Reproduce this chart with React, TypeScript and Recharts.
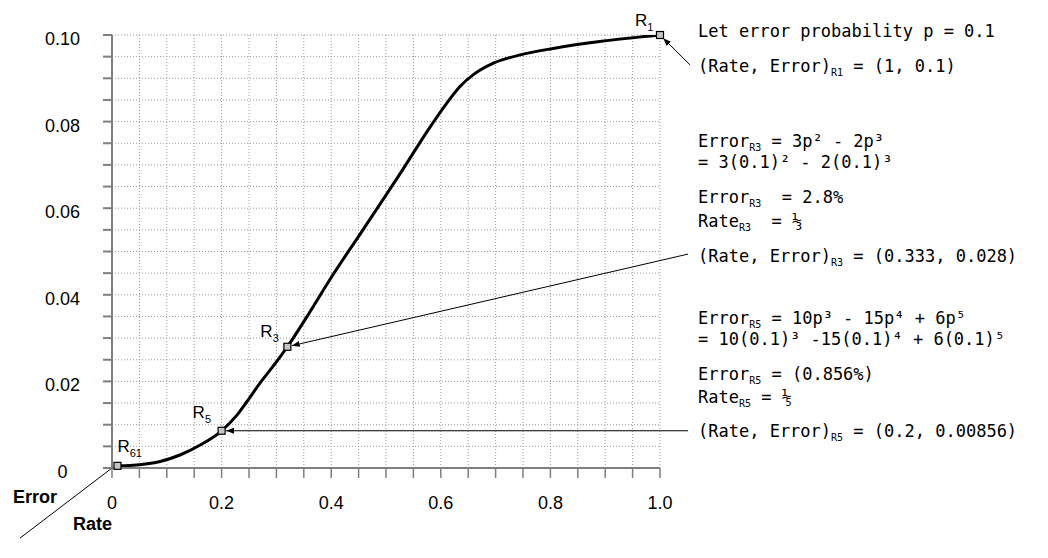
import React from 'react';
import {
  ComposedChart,
  Line,
  XAxis,
  YAxis,
  CartesianGrid,
  ReferenceDot,
  ReferenceLine,
} from 'recharts';

// ---------- data ----------
const curveRates = [0.01, 0.033, 0.088, 0.124, 0.161, 0.2, 0.228, 0.246, 0.27, 0.3, 0.32, 0.36, 0.4, 0.45, 0.49, 0.53, 0.577, 0.61, 0.635, 0.66, 0.696, 0.745, 0.805, 0.89, 1.0];
const curveErrors = [0.0005, 0.0006, 0.0015, 0.003, 0.0053, 0.0086, 0.0122, 0.0153, 0.0196, 0.0245, 0.028, 0.0358, 0.044, 0.0535, 0.0611, 0.0688, 0.0781, 0.0841, 0.0881, 0.0909, 0.0935, 0.0954, 0.0969, 0.0985, 0.1];

const pointNames = ['61', '5', '3', '1'];
const pointRates = [0.01, 0.2, 0.32, 1.0];
const pointErrors = [0.0005, 0.0086, 0.028, 0.1];

const xTicks = Array.from({ length: 21 }, (_, i) => i * 0.05);
const yTicks = Array.from({ length: 21 }, (_, i) => i * 0.005);
const xLabelValues = [0, 0.2, 0.4, 0.6, 0.8, 1.0];
const xTickLabels = ['0', '0.2', '0.4', '0.6', '0.8', '1.0'];
const yLabelValues = [0, 0.02, 0.04, 0.06, 0.08, 0.1];
const yTickLabels = ['0', '0.02', '0.04', '0.06', '0.08', '0.10'];

// annotation leader lines (from note text to point), in data units
const arrowFromRates = [1.0547, 1.0511, 1.0511];
const arrowFromErrors = [0.0931, 0.0494, 0.0086];
const arrowToRates = [1.0, 0.32, 0.2];
const arrowToErrors = [0.1, 0.028, 0.0086];

const cornerLine = [
  { x: 0, y: 0 },
  { x: -0.168, y: -0.0162 },
];

type Part = [string, boolean?];
const noteLines: Part[][] = [
  [['Let error probability p = 0.1']],
  [['(Rate, Error)'], ['R1', true], [' = (1, 0.1)']],
  [['Error'], ['R3', true], [' = 3p² - 2p³']],
  [['= 3(0.1)² - 2(0.1)³']],
  [['Error'], ['R3', true], ['  = 2.8%']],
  [['Rate'], ['R3', true], ['  = ⅓']],
  [['(Rate, Error)'], ['R3', true], [' = (0.333, 0.028)']],
  [['Error'], ['R5', true], [' = 10p³ - 15p⁴ + 6p⁵']],
  [['= 10(0.1)³ -15(0.1)⁴ + 6(0.1)⁵']],
  [['Error'], ['R5', true], [' = (0.856%)']],
  [['Rate'], ['R5', true], [' = ⅕']],
  [['(Rate, Error)'], ['R5', true], [' = (0.2, 0.00856)']],
];

// ---------- layout / style ----------
const W = 1048;
const H = 558;
const noteX = 698;
const noteBaselines = [37, 72, 147, 168, 203, 227, 262, 324, 345, 380, 403, 437];
const labelOffsets = [
  [0, -14],
  [-29, -13],
  [-27, -10],
  [-25, -9],
];
const SANS = '"Liberation Sans", Arial, sans-serif';
const MONO = '"DejaVu Sans Mono", monospace';
const AXIS_GRAY = '#7f7f7f';

const curveData = curveRates.map((r, i) => ({ rate: r, error: curveErrors[i] }));

const findIdx = (arr: number[], v: number) => arr.findIndex((t) => Math.abs(t - v) < 1e-9);

const XTick = (props: any) => {
  const { x, y, payload } = props;
  const i = findIdx(xLabelValues, payload.value);
  if (i < 0) return <g />;
  return (
    <text x={x} y={y + 29} textAnchor="middle" fontFamily={SANS} fontSize={18} fill="#000">
      {xTickLabels[i]}
    </text>
  );
};

const YTick = (props: any) => {
  const { x, y, payload } = props;
  const i = findIdx(yLabelValues, payload.value);
  if (i < 0) return <g />;
  return (
    <text x={x - 38.5} y={y + 10} textAnchor="middle" fontFamily={SANS} fontSize={18} fill="#000">
      {yTickLabels[i]}
    </text>
  );
};

const makeArrowShape = (id: string) => (p: any) => {
  const { x1, y1, x2, y2 } = p;
  const dx = x2 - x1;
  const dy = y2 - y1;
  const len = Math.sqrt(dx * dx + dy * dy) || 1;
  const ex = x2 - (dx / len) * 4.5;
  const ey = y2 - (dy / len) * 4.5;
  return (
    <g>
      <defs>
        <marker id={id} markerUnits="userSpaceOnUse" markerWidth={9} markerHeight={7} refX={8} refY={3} orient="auto">
          <path d="M0,0 L8,3 L0,6 z" fill="#000" />
        </marker>
      </defs>
      <line x1={x1} y1={y1} x2={ex} y2={ey} stroke="#000" strokeWidth={1} markerEnd={`url(#${id})`} />
    </g>
  );
};

const PlainLineShape = (p: any) => (
  <line x1={p.x1} y1={p.y1} x2={p.x2} y2={p.y2} stroke="#000" strokeWidth={1} />
);

const makePointShape = (idx: number) => (p: any) => {
  const { cx, cy } = p;
  const [ox, oy] = labelOffsets[idx];
  return (
    <g>
      <rect x={cx - 3.5} y={cy - 3.5} width={7} height={7} fill="#c4c4c4" stroke="#000" strokeWidth={1.2} />
      <text x={cx + ox} y={cy + oy} fontFamily={SANS} fontSize={17} fill="#000">
        R
        <tspan fontSize={11} dy={5}>
          {pointNames[idx]}
        </tspan>
      </text>
    </g>
  );
};

export default function App() {
  return (
    <div style={{ position: 'absolute', left: 0, top: 0, width: W, height: H, background: '#fff' }}>
      <ComposedChart width={W} height={H} data={curveData} margin={{ top: 35, right: 388, bottom: 0, left: 0 }}>
        <CartesianGrid stroke="#9a9a9a" strokeDasharray="1 2" strokeWidth={1} />
        <XAxis
          type="number"
          dataKey="rate"
          domain={[0, 1]}
          ticks={xTicks}
          interval={0}
          height={90}
          tickSize={10}
          axisLine={{ stroke: AXIS_GRAY, strokeWidth: 2 }}
          tickLine={{ stroke: AXIS_GRAY, strokeWidth: 1.5 }}
          tick={XTick}
          allowDataOverflow
        />
        <YAxis
          type="number"
          domain={[0, 0.1]}
          ticks={yTicks}
          interval={0}
          width={112}
          tickSize={9}
          axisLine={{ stroke: AXIS_GRAY, strokeWidth: 2 }}
          tickLine={{ stroke: AXIS_GRAY, strokeWidth: 2 }}
          tick={YTick}
          allowDataOverflow
        />
        <Line
          type="monotone"
          dataKey="error"
          stroke="#000"
          strokeWidth={3}
          dot={false}
          activeDot={false}
          isAnimationActive={false}
        />
        <ReferenceLine segment={cornerLine} ifOverflow="visible" shape={PlainLineShape} />
        {arrowFromRates.map((r, i) => (
          <ReferenceLine
            key={`arrow-${i}`}
            segment={[
              { x: r, y: arrowFromErrors[i] },
              { x: arrowToRates[i], y: arrowToErrors[i] },
            ]}
            ifOverflow="visible"
            shape={makeArrowShape(`arrowhead-${i}`)}
          />
        ))}
        {pointRates.map((r, i) => (
          <ReferenceDot
            key={`pt-${i}`}
            x={r}
            y={pointErrors[i]}
            r={4}
            ifOverflow="visible"
            shape={makePointShape(i)}
          />
        ))}
      </ComposedChart>
      <svg
        width={W}
        height={H}
        style={{ position: 'absolute', left: 0, top: 0, pointerEvents: 'none' }}
      >
        <text x={13} y={503} fontFamily={SANS} fontSize={18} fontWeight="bold" fill="#000">
          Error
        </text>
        <text x={73} y={530} fontFamily={SANS} fontSize={18} fontWeight="bold" fill="#000">
          Rate
        </text>
        {noteLines.map((parts, li) => (
          <text key={li} x={noteX} y={noteBaselines[li]} fontFamily={MONO} fontSize={17} fill="#000" xmlSpace="preserve" style={{ whiteSpace: 'pre' }}>
            {parts.map((p, pi) =>
              p[1] ? (
                <tspan key={pi} fontSize={10} dy={3.5}>
                  {p[0]}
                </tspan>
              ) : (
                <tspan key={pi} dy={pi > 0 && parts[pi - 1][1] ? -3.5 : 0}>
                  {p[0]}
                </tspan>
              )
            )}
          </text>
        ))}
      </svg>
    </div>
  );
}
